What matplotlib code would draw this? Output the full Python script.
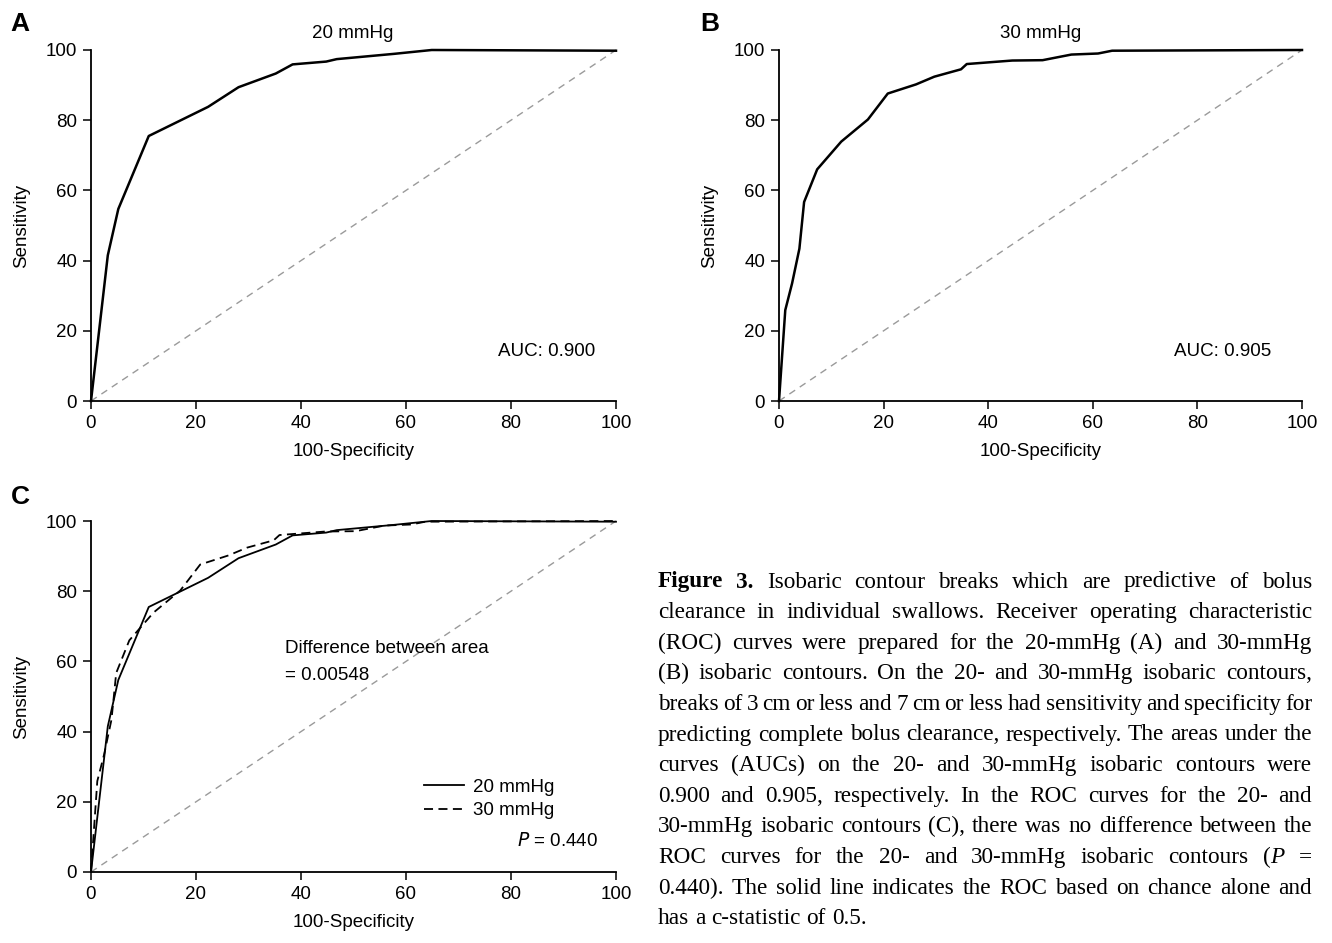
import matplotlib
matplotlib.use("Agg")
import matplotlib.pyplot as plt

# ---------------- data ----------------
fpr_20 = [0, 3.2, 5.2, 11.0, 22.3, 28.1, 35.2, 38.4, 44.8, 46.8, 57.7, 64.9, 100]
tpr_20 = [0, 41.5, 54.7, 75.5, 83.8, 89.4, 93.3, 95.9, 96.7, 97.4, 98.9, 100, 99.8]

fpr_30 = [0, 1.2, 2.5, 3.9, 4.8, 7.3, 11.9, 17.0, 20.8, 26.2, 29.7, 34.8, 35.9,
          44.6, 50.4, 55.9, 61.0, 63.7, 100]
tpr_30 = [0, 25.9, 33.5, 43.4, 56.7, 66.0, 73.9, 80.2, 87.6, 90.2, 92.4, 94.5, 96.0,
          97.0, 97.1, 98.7, 99.0, 99.8, 100]

ticks = [0, 20, 40, 60, 80, 100]
auc_labels = ["AUC: 0.900", "AUC: 0.905"]
titles = ["20 mmHg", "30 mmHg"]
series_labels = ["20 mmHg", "30 mmHg"]

W, H = 1332, 943
SANS = ["Liberation Sans", "DejaVu Sans"]
SERIF = ["Liberation Serif", "DejaVu Serif"]
plt.rcParams["font.family"] = SANS

fig = plt.figure(figsize=(W / 100, H / 100), dpi=100)


def px_axes(x0, x1, ytop, ybot):
    return fig.add_axes([x0 / W, (H - ybot) / H, (x1 - x0) / W, (ybot - ytop) / H])


def style(ax):
    ax.set_xlim(0, 100)
    ax.set_ylim(0, 100)
    ax.set_xticks(ticks)
    ax.set_yticks(ticks)
    for s in ("top", "right"):
        ax.spines[s].set_visible(False)
    for s in ("left", "bottom"):
        ax.spines[s].set_linewidth(1.3)
    ax.tick_params(direction="out", length=6, width=1.1, labelsize=13.5, pad=4)
    ax.set_xlabel("100-Specificity", fontsize=13.5, labelpad=8)
    ax.set_ylabel("Sensitivity", fontsize=13.5, labelpad=11)
    ax.plot([0, 100], [0, 100], color="#9a9a9a", lw=1.0, ls=(0, (5, 4)), clip_on=False)


# Panel A
axA = px_axes(91, 616, 50, 401)
style(axA)
axA.plot(fpr_20, tpr_20, color="black", lw=1.8, clip_on=False)
axA.text(86.7, 14, auc_labels[0], ha="center", va="center", fontsize=13.5)
fig.text(353 / W, 1 - 33 / H, titles[0], ha="center", va="center", fontsize=13.5)
fig.text(20 / W, 1 - 24 / H, "A", ha="center", va="center", fontsize=19, fontweight="bold")

# Panel B
axB = px_axes(779, 1302, 50, 401)
style(axB)
axB.plot(fpr_30, tpr_30, color="black", lw=1.8, clip_on=False)
axB.text(84.9, 14, auc_labels[1], ha="center", va="center", fontsize=13.5)
fig.text(1041 / W, 1 - 33 / H, titles[1], ha="center", va="center", fontsize=13.5)
fig.text(710 / W, 1 - 24 / H, "B", ha="center", va="center", fontsize=19, fontweight="bold")

# Panel C
axC = px_axes(91, 616, 521, 872)
style(axC)
axC.plot(fpr_20, tpr_20, color="black", lw=1.3, clip_on=False, label=series_labels[0])
axC.plot(fpr_30, tpr_30, color="black", lw=1.3, ls=(0, (5, 3)), clip_on=False,
         label=series_labels[1])
axC.text(37, 63.8, "Difference between area", ha="left", va="center", fontsize=13.5)
axC.text(37, 56.1, "= 0.00548", ha="left", va="center", fontsize=13.5)
axC.text(96.6, 8.8, r"$P$ = 0.440", ha="right", va="center", fontsize=13.5)
axC.legend(loc="upper left", bbox_to_anchor=(0.617, 0.293), frameon=False, fontsize=13.5,
           handlelength=2.1, handletextpad=0.5, labelspacing=0.35, borderpad=0)
fig.text(20 / W, 1 - 497 / H, "C", ha="center", va="center", fontsize=19, fontweight="bold")

# ---------------- caption (justified) ----------------
B_, I_, N_ = "bold", "italic", "normal"
caption_lines = [
    [[("Figure", B_)], [("3.", B_)], "Isobaric", "contour", "breaks", "which", "are",
     "predictive", "of", "bolus"],
    "clearance in individual swallows. Receiver operating characteristic",
    "(ROC) curves were prepared for the 20-mmHg (A) and 30-mmHg",
    "(B) isobaric contours. On the 20- and 30-mmHg isobaric contours,",
    "breaks of 3 cm or less and 7 cm or less had sensitivity and specificity for",
    "predicting complete bolus clearance, respectively. The areas under the",
    "curves (AUCs) on the 20- and 30-mmHg isobaric contours were",
    "0.900 and 0.905, respectively. In the ROC curves for the 20- and",
    "30-mmHg isobaric contours (C), there was no difference between the",
    ["ROC", "curves", "for", "the", "20-", "and", "30-mmHg", "isobaric", "contours",
     [("(", N_), ("P", I_)], "="],
    "0.440). The solid line indicates the ROC based on chance alone and",
    "has a c-statistic of 0.5.",
]

cap_x0, cap_x1 = 658, 1312
cap_y0, cap_dy = 582, 30.6
renderer = fig.canvas.get_renderer()


def to_words(line):
    if isinstance(line, str):
        return [[(w, N_)] for w in line.split()]
    out = []
    for w in line:
        out.append([(w, N_)] if isinstance(w, str) else w)
    return out


def make_line(words, fs):
    arts, widths = [], []
    for w in words:
        segs, ww = [], 0
        for txt, kind in w:
            t = fig.text(0, 0, txt, fontsize=fs, family=SERIF,
                         fontweight="bold" if kind == B_ else "normal",
                         fontstyle="italic" if kind == I_ else "normal",
                         ha="left", va="center", transform=None)
            wpx = t.get_window_extent(renderer).width
            segs.append((t, wpx))
            ww += wpx
        arts.append(segs)
        widths.append(ww)
    return arts, widths


all_words = [to_words(l) for l in caption_lines]

fs = 17.5
while True:
    ok = True
    for i, words in enumerate(all_words[:-1]):
        arts, widths = make_line(words, fs)
        for segs in arts:
            for t, _ in segs:
                t.remove()
        gap = (cap_x1 - cap_x0 - sum(widths)) / (len(words) - 1)
        if gap < fs * 100 / 72 * 0.18:
            ok = False
            break
    if ok or fs < 10:
        break
    fs -= 0.25

for i, words in enumerate(all_words):
    y = H - (cap_y0 + i * cap_dy)
    arts, widths = make_line(words, fs)
    if i == len(all_words) - 1:
        gap = fs * 100 / 72 * 0.25
    else:
        gap = (cap_x1 - cap_x0 - sum(widths)) / (len(words) - 1)
    x = cap_x0
    for segs, ww in zip(arts, widths):
        xx = x
        for t, wpx in segs:
            t.set_position((xx, y))
            xx += wpx
        x += ww + gap

fig.savefig("out.png", dpi=100)
